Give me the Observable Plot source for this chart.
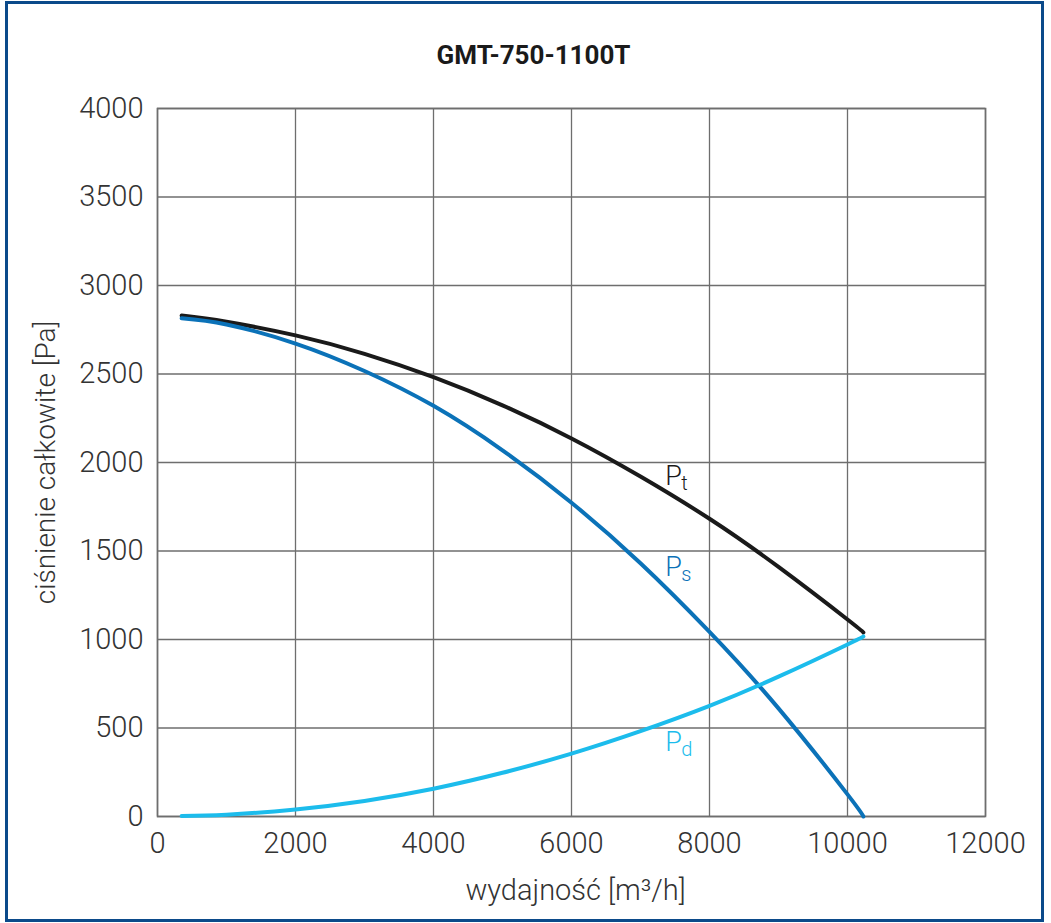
<!DOCTYPE html>
<html>
<head>
<meta charset="utf-8">
<script src="https://cdn.jsdelivr.net/npm/d3@7"></script>
<script src="https://cdn.jsdelivr.net/npm/@observablehq/plot@0.6"></script>
<style>
  html, body { margin: 0; padding: 0; background: #fff; }
  #wrap { position: relative; width: 1051px; height: 923px; overflow: hidden; }
  #border { position: absolute; left: 5px; top: 1px; width: 1039px; height: 921px;
            border: 3px solid #0b4a8a; box-sizing: border-box; pointer-events: none; }
</style>
</head>
<body>
<div id="wrap"><div id="border"></div></div>
<script>
// Data
const flow = [350, 1000, 2000, 3000, 4000, 5000, 6000, 7000, 8000, 9000, 10000, 10230];
const pt   = [2830, 2795, 2718, 2614, 2482, 2323, 2136, 1921, 1682, 1410, 1113, 1040];
const ps   = [2815, 2780, 2672, 2517, 2320, 2069, 1773, 1431, 1043, 611, 125, 0];
const pd   = [3, 10, 40, 88, 157, 247, 355, 482, 625, 790, 972, 1017];

const xTicks = [0, 2000, 4000, 6000, 8000, 10000, 12000];
const yTicks = [0, 500, 1000, 1500, 2000, 2500, 3000, 3500, 4000];

const curveNames = ["P", "P", "P"];
const curveSubs  = ["t", "s", "d"];
const labelX = [7360, 7360, 7360];
const labelY = [1921, 1405, 418];
const labelColors = ["#1a1a1a", "#0b72b8", "#1cbcec"];

const title = "GMT-750-1100T";
const xLabel = "wydajność [m³/h]";
const yLabel = "ciśnienie całkowite [Pa]";

const series = [
  {name: "Pt", values: pt, color: "#1a1a1a"},
  {name: "Ps", values: ps, color: "#0b72b8"},
  {name: "Pd", values: pd, color: "#1cbcec"}
];
const rows = series.flatMap(s => flow.map((f, i) => ({x: f, y: s.values[i], name: s.name})));
const labels = curveNames.map((n, i) => ({x: labelX[i], y: labelY[i], p: n, sub: curveSubs[i], color: labelColors[i]}));

const font = "Roboto, 'Noto Sans', sans-serif";

const chart = Plot.plot({
  width: 1051,
  height: 923,
  marginLeft: 157,
  marginRight: 66,
  marginTop: 108,
  marginBottom: 107,
  style: {fontFamily: font, fontWeight: 300, fontSize: "29px", color: "#333", background: "transparent"},
  x: {domain: [0, 12000], ticks: xTicks, tickSize: 0, tickPadding: 16, label: null, tickFormat: d => String(d)},
  y: {domain: [0, 4000], ticks: yTicks, tickSize: 0, tickPadding: 14, label: null, tickFormat: d => String(d)},
  color: {domain: series.map(s => s.name), range: series.map(s => s.color)},
  marks: [
    Plot.gridX(xTicks, {stroke: "#6e6e6e", strokeOpacity: 1, strokeWidth: 1.3}),
    Plot.gridY(yTicks, {stroke: "#6e6e6e", strokeOpacity: 1, strokeWidth: 1.3}),
    Plot.frame({stroke: "#6e6e6e", strokeWidth: 1.6}),
    Plot.line(rows, {x: "x", y: "y", z: "name", stroke: "name", strokeWidth: 4, curve: "natural"}),
    Plot.text(labels, {x: "x", y: "y", text: "p", fill: "color", textAnchor: "start", fontSize: 27, fontWeight: 300}),
    Plot.text(labels, {x: "x", y: "y", text: "sub", fill: "color", textAnchor: "start", fontSize: 20, fontWeight: 300, dx: 16, dy: 7}),
    Plot.text([title], {frameAnchor: "top", text: d => d, dx: -38, dy: -53, lineAnchor: "middle", textAnchor: "middle", fontSize: 26, fontWeight: 700, fill: "#1a1a1a"}),
    Plot.text([xLabel], {frameAnchor: "bottom", text: d => d, dx: 4, dy: 74, lineAnchor: "middle", textAnchor: "middle", fontSize: 29, fontWeight: 300, fill: "#333"}),
    Plot.text([yLabel], {frameAnchor: "left", text: d => d, dx: -111, rotate: -90, lineAnchor: "middle", textAnchor: "middle", fontSize: 28, fontWeight: 300, fill: "#333"})
  ]
});
document.getElementById("wrap").prepend(chart);
</script>
</body>
</html>
